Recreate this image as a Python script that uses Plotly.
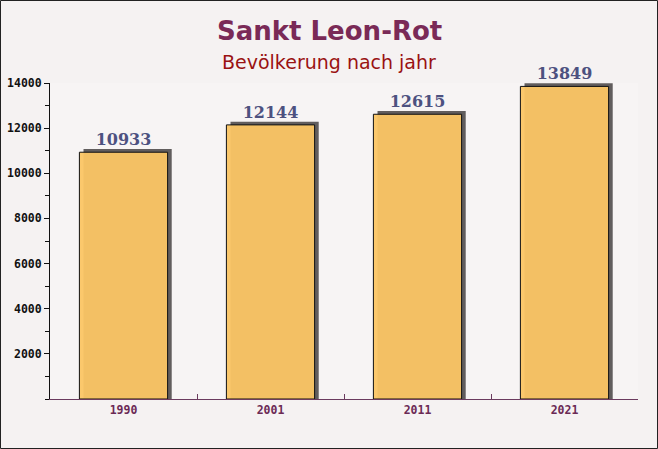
import plotly.graph_objects as go

years = ["1990", "2001", "2011", "2021"]
population = [10933, 12144, 12615, 13849]
y_ticks = [2000, 4000, 6000, 8000, 10000, 12000, 14000]

title_text = "Sankt Leon-Rot"
subtitle_text = "Bevölkerung nach jahr"

BAR_W = 0.6
SHADOW_DX = 0.028
SHADOW_DY = 140

fig = go.Figure()

# shadow (3D effect)
fig.add_trace(go.Bar(
    x=years,
    y=[v + SHADOW_DY for v in population],
    width=BAR_W,
    offset=-BAR_W / 2 + SHADOW_DX,
    marker=dict(color="rgba(70,66,66,0.85)", line=dict(width=0)),
    hoverinfo="skip",
    showlegend=False,
))

# main bars
fig.add_trace(go.Bar(
    x=years,
    y=population,
    width=BAR_W,
    offset=-BAR_W / 2,
    marker=dict(color="rgba(251,197,100,0.95)", line=dict(color="#111111", width=1)),
    text=[str(v) for v in population],
    textposition="outside",
    textfont=dict(family="DejaVu Serif", size=16, color="#4d5180", weight="bold"),
    cliponaxis=False,
    showlegend=False,
))

W, H = 658, 449
ml, mr, mt, mb = 50, 20, 83, 50
pw = W - ml - mr
ph = H - mt - mb

fig.update_layout(
    width=W, height=H,
    margin=dict(l=ml, r=mr, t=mt, b=mb, autoexpand=False),
    barmode="overlay",
    paper_bgcolor="#f5f2f2",
    plot_bgcolor="#f7f4f4",
    font=dict(family="DejaVu Sans"),
    xaxis=dict(
        type="category",
        range=[-0.5, 3.5],
        automargin=False,
        showgrid=False,
        showline=True, linecolor="#6b3a5e", linewidth=1,
        ticks="inside", tickson="boundaries", ticklen=5, tickcolor="#6b3a5e",
        tickfont=dict(family="DejaVu Sans Mono", size=11.5, color="#6b2a55", weight="bold"),
        fixedrange=True,
    ),
    yaxis=dict(
        range=[0, 14000],
        automargin=False,
        tickvals=y_ticks,
        tickformat="d",
        showgrid=False, zeroline=False,
        showline=True, linecolor="#111111", linewidth=1,
        ticks="outside", ticklen=5, tickcolor="#111111",
        minor=dict(dtick=1000, ticks="outside", ticklen=4, tickcolor="#111111"),
        tickfont=dict(family="DejaVu Sans Mono", size=11.5, color="#111111", weight="bold"),
        fixedrange=True,
    ),
    annotations=[
        dict(text=title_text, xref="paper", yref="paper",
             x=0.5 + (mr - ml) / 2 / pw, y=1 + (mt - 31) / ph,
             xanchor="center", yanchor="middle", showarrow=False,
             font=dict(family="DejaVu Sans", size=26, color="#7a2a57", weight="bold")),
        dict(text=subtitle_text, xref="paper", yref="paper",
             x=0.5 + (mr - ml) / 2 / pw, y=1 + (mt - 62) / ph,
             xanchor="center", yanchor="middle", showarrow=False,
             font=dict(family="DejaVu Sans", size=19, color="#9a1212")),
    ],
    shapes=[
        dict(type="rect", xref="paper", yref="paper",
             x0=-ml / pw + 0.5 / pw, x1=1 + mr / pw - 0.5 / pw,
             y0=-mb / ph + 0.5 / ph, y1=1 + mt / ph - 0.5 / ph,
             line=dict(color="#222222", width=1), layer="above"),
    ],
)

fig.write_html(
    "out.html",
    config={"displayModeBar": False},
    post_script="document.body.style.margin='0';document.body.style.overflow='hidden';",
)
